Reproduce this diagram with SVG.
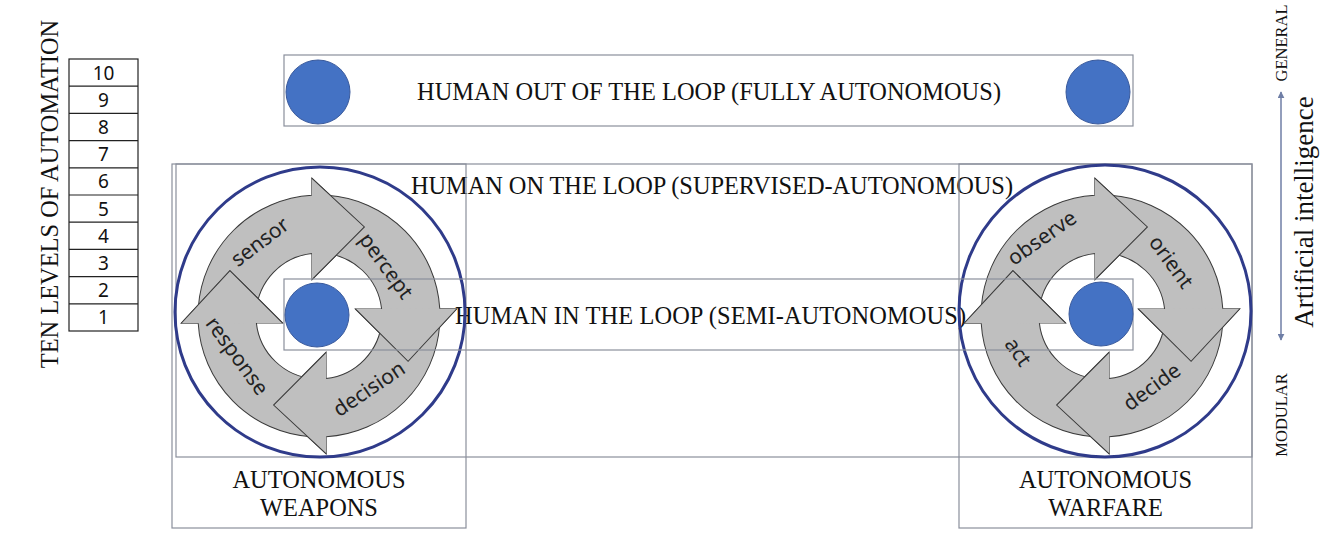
<svg xmlns="http://www.w3.org/2000/svg" xmlns:xlink="http://www.w3.org/1999/xlink" width="1340" height="542" viewBox="0 0 1340 542">
<style>
.box{fill:none;stroke:#8a8f9c;stroke-width:1.2}
.serif{font-family:"Liberation Serif","Times New Roman",serif;fill:#111}
.lvl{font-family:"Noto Sans","Open Sans",sans-serif;font-size:19px;fill:#111;text-anchor:middle}
.ring{fill:none;stroke:#2f3b8a;stroke-width:3}
.dot{fill:#4472c4;stroke:#3a5a9c;stroke-width:1}
.arr{fill:#bfbfbf;stroke:#3a3a3a;stroke-width:1}
.lab{font-family:"Noto Sans","Open Sans",sans-serif;font-size:21px;fill:#222;text-anchor:middle}
</style>
<defs>
<path id="arrow" d="M14.75 -120.1 A121 121 0 0 1 121 -0.86 L138 0 L86.6 50 L36.64 -5.15 L62.9 -3.82 A63 63 0 0 0 7.68 -62.53 Z"/>
<path id="head" d="M138 0 L86.6 50 L36.64 -5.15"/>
<marker id="ah" viewBox="0 0 10 10" refX="9" refY="5" markerWidth="7" markerHeight="7" orient="auto-start-reverse" markerUnits="userSpaceOnUse">
<path d="M0 0 L10 5 L0 10 Z" fill="#6f7ea6"/>
</marker>
</defs>

<g id="levels">
<text class="serif" font-size="24.4" transform="translate(58,194) rotate(-90)" text-anchor="middle">TEN LEVELS OF AUTOMATION</text>
<rect x="69" y="59" width="69" height="272" fill="#fff" stroke="#222" stroke-width="1.2"/>
<g stroke="#222" stroke-width="1.2">
<line x1="69" y1="86.2" x2="138" y2="86.2"/><line x1="69" y1="113.4" x2="138" y2="113.4"/>
<line x1="69" y1="140.6" x2="138" y2="140.6"/><line x1="69" y1="167.8" x2="138" y2="167.8"/>
<line x1="69" y1="195" x2="138" y2="195"/><line x1="69" y1="222.2" x2="138" y2="222.2"/>
<line x1="69" y1="249.4" x2="138" y2="249.4"/><line x1="69" y1="276.6" x2="138" y2="276.6"/>
<line x1="69" y1="303.8" x2="138" y2="303.8"/>
</g>
<text class="lvl" x="103.5" y="79.5">10</text>
<text class="lvl" x="103.5" y="106.7">9</text>
<text class="lvl" x="103.5" y="133.9">8</text>
<text class="lvl" x="103.5" y="161.1">7</text>
<text class="lvl" x="103.5" y="188.3">6</text>
<text class="lvl" x="103.5" y="215.5">5</text>
<text class="lvl" x="103.5" y="242.7">4</text>
<text class="lvl" x="103.5" y="269.9">3</text>
<text class="lvl" x="103.5" y="297.1">2</text>
<text class="lvl" x="103.5" y="324.3">1</text>
</g>

<g id="out-of-loop">
<rect class="box" x="284" y="55" width="849" height="71"/>
<circle class="dot" cx="318" cy="92" r="32"/>
<circle class="dot" cx="1098" cy="92" r="32"/>
<text class="serif" font-size="24.4" x="417" y="100" textLength="584" lengthAdjust="spacing">HUMAN OUT OF THE LOOP (FULLY AUTONOMOUS)</text>
</g>

<g id="on-the-loop">
<rect class="box" x="176" y="164" width="1076" height="293"/>
<text class="serif" font-size="24.4" x="411" y="194" textLength="602" lengthAdjust="spacing">HUMAN ON THE LOOP (SUPERVISED-AUTONOMOUS)</text>
</g>

<g id="autonomous-weapons">
<rect class="box" x="172" y="164" width="294" height="364"/>
<text class="serif" font-size="24.4" x="319" y="488" text-anchor="middle">AUTONOMOUS</text>
<text class="serif" font-size="24.4" x="319" y="516" text-anchor="middle">WEAPONS</text>
</g>

<g id="autonomous-warfare">
<rect class="box" x="959" y="164" width="293" height="364"/>
<text class="serif" font-size="24.4" x="1105.5" y="488" text-anchor="middle">AUTONOMOUS</text>
<text class="serif" font-size="24.4" x="1105.5" y="516" text-anchor="middle">WARFARE</text>
</g>

<g id="in-the-loop-label">
<text class="serif" font-size="24.4" x="455" y="324" textLength="511" lengthAdjust="spacing">HUMAN IN THE LOOP (SEMI-AUTONOMOUS)</text>
</g>

<g id="weapons-cycle">
<circle class="ring" cx="320" cy="312" r="145"/>
<g class="arr">
<use href="#arrow" transform="translate(319,316) rotate(-93)"/>
<use href="#arrow" transform="translate(319,316) rotate(-3)"/>
<use href="#arrow" transform="translate(319,316) rotate(87)"/>
<use href="#arrow" transform="translate(319,316) rotate(177)"/>
<use href="#head" transform="translate(319,316) rotate(-93)"/>
<use href="#head" transform="translate(319,316) rotate(-3)"/>
<use href="#head" transform="translate(319,316) rotate(87)"/>
<use href="#head" transform="translate(319,316) rotate(177)"/>
</g>
<text class="lab" transform="translate(260,242) rotate(-37)" dy="7">sensor</text>
<text class="lab" transform="translate(386,266) rotate(54)" dy="7">percept</text>
<text class="lab" transform="translate(369,389) rotate(-34)" dy="7">decision</text>
<text class="lab" transform="translate(237,356) rotate(54)" dy="7">response</text>
</g>

<g id="warfare-cycle">
<circle class="ring" cx="1105" cy="311" r="146"/>
<g class="arr">
<use href="#arrow" transform="translate(1102,316) rotate(-93)"/>
<use href="#arrow" transform="translate(1102,316) rotate(-3)"/>
<use href="#arrow" transform="translate(1102,316) rotate(87)"/>
<use href="#arrow" transform="translate(1102,316) rotate(177)"/>
<use href="#head" transform="translate(1102,316) rotate(-93)"/>
<use href="#head" transform="translate(1102,316) rotate(-3)"/>
<use href="#head" transform="translate(1102,316) rotate(87)"/>
<use href="#head" transform="translate(1102,316) rotate(177)"/>
</g>
<text class="lab" transform="translate(1042,238) rotate(-35)" dy="7">observe</text>
<text class="lab" transform="translate(1171,262) rotate(54)" dy="7">orient</text>
<text class="lab" transform="translate(1152,387) rotate(-36)" dy="7">decide</text>
<text class="lab" transform="translate(1018,352) rotate(55)" dy="7">act</text>
</g>

<g id="in-the-loop">
<rect class="box" x="284" y="279" width="849" height="71"/>
<circle class="dot" cx="317" cy="315" r="32"/>
<circle class="dot" cx="1101" cy="314" r="32"/>
</g>

<g id="ai-scale">
<text class="serif" font-size="16.5" transform="translate(1287,43) rotate(-90)" text-anchor="middle">GENERAL</text>
<text class="serif" font-size="16.5" transform="translate(1287,415) rotate(-90)" text-anchor="middle">MODULAR</text>
<text class="serif" font-size="27" transform="translate(1313,212) rotate(-90)" text-anchor="middle">Artificial intelligence</text>
</g>

<g id="connectors">
<line x1="1281" y1="340" x2="1281" y2="92" stroke="#6f7ea6" stroke-width="1.5" marker-start="url(#ah)" marker-end="url(#ah)"/>
</g>
</svg>
